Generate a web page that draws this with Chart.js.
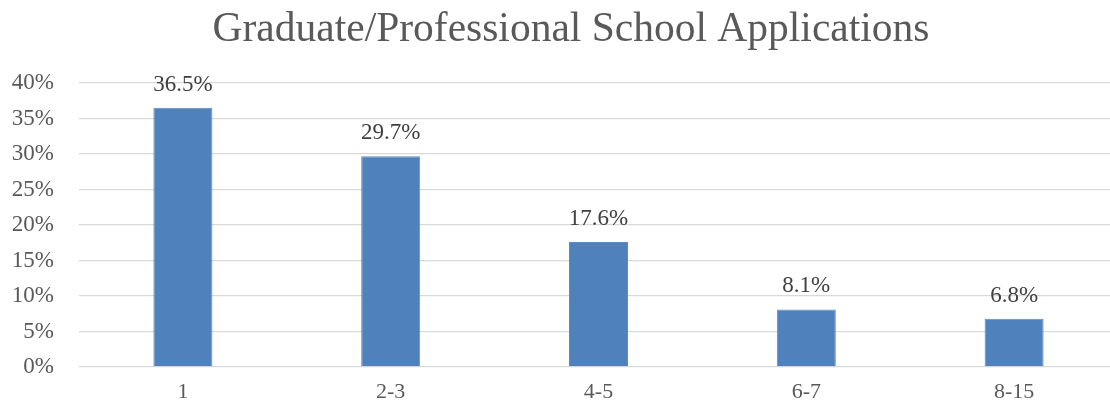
<!DOCTYPE html>
<html>
<head>
<meta charset="utf-8">
<script src="https://cdn.jsdelivr.net/npm/chart.js@4"></script>
<style>
  html, body { margin: 0; padding: 0; background: #fff; overflow: hidden; }
  #wrap { width: 1118px; height: 406px; }
</style>
</head>
<body>
<div id="wrap"><canvas id="chart"></canvas></div>
<script>
const categories = ['1', '2-3', '4-5', '6-7', '8-15'];
const shares = [36.5, 29.7, 17.6, 8.1, 6.8];
const yTicks = [0, 5, 10, 15, 20, 25, 30, 35, 40];
const titleText = 'Graduate/Professional School Applications';

const serif = "'Liberation Serif', 'DejaVu Serif', serif";
const grey = '#595959';

// value above each bar, plus the title (centred on the original, wider chart box)
const valueLabels = {
    id: 'valueLabels',
    afterDatasetsDraw(chart) {
        const ctx = chart.ctx;
        const meta = chart.getDatasetMeta(0);
        ctx.save();
        ctx.font = '23px ' + serif;
        ctx.fillStyle = '#404040';
        ctx.textAlign = 'center';
        ctx.textBaseline = 'alphabetic';
        meta.data.forEach((bar, i) => {
            ctx.fillText(shares[i].toFixed(1) + '%', bar.x, bar.y - 17);
        });
        ctx.font = '41.5px ' + serif;
        ctx.fillStyle = grey;
        ctx.fillText(titleText, 571, 41);
        ctx.restore();
    }
};

new Chart(document.getElementById('chart'), {
    type: 'bar',
    data: {
        labels: categories,
        datasets: [{
            data: shares,
            backgroundColor: '#4f81bd',
            borderColor: '#5b8cc6',
            borderWidth: 1,
            barPercentage: 0.284,
            categoryPercentage: 1
        }]
    },
    options: {
        responsive: true,
        maintainAspectRatio: false,
        animation: false,
        layout: { padding: { top: 83, bottom: 0, right: 0, left: 0 } },
        plugins: {
            legend: { display: false },
            tooltip: { enabled: false },
            title: { display: false }
        },
        scales: {
            x: {
                afterFit(scale) { scale.height = 39; },
                grid: { display: false, drawTicks: false },
                border: { display: false },
                ticks: { color: grey, font: { family: serif, size: 22 }, padding: 12 }
            },
            y: {
                min: 0,
                max: 40,
                afterBuildTicks(scale) {
                    scale.ticks = yTicks.map(v => ({ value: v }));
                },
                afterFit(scale) { scale.width = 79; },
                grid: { color: '#d9d9d9', lineWidth: 1.3, drawTicks: false },
                border: { display: false },
                ticks: {
                    color: grey,
                    font: { family: serif, size: 23 },
                    padding: 25,
                    callback: v => v + '%'
                }
            }
        }
    },
    plugins: [valueLabels]
});
</script>
</body>
</html>
